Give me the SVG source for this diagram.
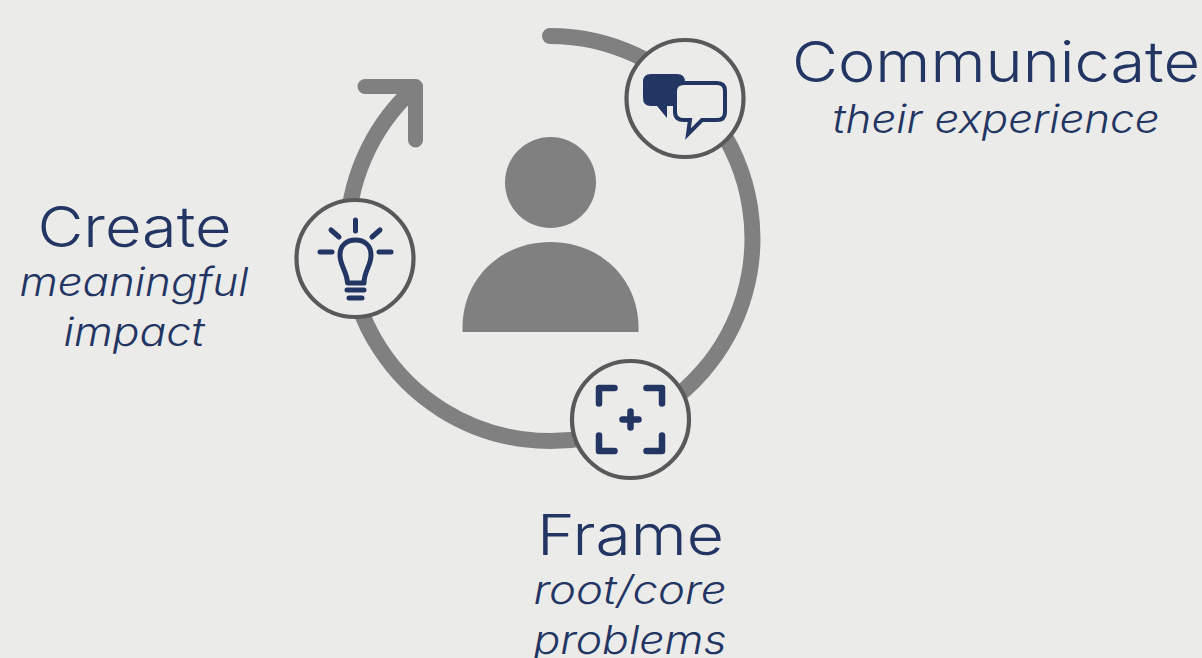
<svg xmlns="http://www.w3.org/2000/svg" width="1202" height="658" viewBox="0 0 1202 658">
<style>
.ring{fill:none;stroke:#808080;stroke-width:16;stroke-linecap:round;stroke-linejoin:round}
.arrow{fill:none;stroke:#808080;stroke-width:15;stroke-linecap:round;stroke-linejoin:round}
.badge{fill:#ebebe9;stroke:#595959;stroke-width:4.200}
.ico{fill:none;stroke:#233563;stroke-width:5;stroke-linecap:round;stroke-linejoin:round}
.t{font-family:Inter,"Liberation Sans",sans-serif;font-weight:300;fill:#233563;text-anchor:middle;font-size:56px}
.s{font-family:Inter,"Liberation Sans",sans-serif;font-weight:300;font-style:italic;fill:#233563;text-anchor:middle;font-size:39px}
</style>
<rect width="1202" height="658" fill="#ebebe9"/>
<g id="connectors">
<path class="ring" d="M550 36A202.500 202.500 0 1 1 415 87.500"/>
<path class="arrow" d="M365 86.500H415.500V140"/>
</g>
<g id="person">
<circle cx="550.500" cy="182.500" r="45.500" fill="#808080"/>
<path d="M462.500 332V326C463.500 277 502 242 550.500 242C599 242 637.500 277 638.500 326V332Z" fill="#808080"/>
</g>
<g id="communicate">
<circle class="badge" cx="685" cy="98.500" r="58.500"/>
<path d="M651 74H677Q685 74 685 82V106H667V118L657 106H651Q643 106 643 98V82Q643 74 651 74Z" fill="#233563"/>
<path d="M684 83H717Q725 83 725 91V112Q725 120 717 120H702L688 134L690 120H684Q675 120 675 112V91Q675 83 684 83Z" fill="#ebebe9" stroke="#233563" stroke-width="4"/>
<text class="t" x="996" y="82" textLength="408" lengthAdjust="spacingAndGlyphs">Communicate</text>
<text class="s" x="996" y="133" textLength="327" lengthAdjust="spacingAndGlyphs">their experience</text>
</g>
<g id="create">
<circle class="badge" cx="355" cy="258.500" r="58.500"/>
<path class="ico" d="M355.500 220V231M331 230L339 237M380 230L372 237M320 252H332M379 252H391"/>
<path class="ico" d="M347.500 283C347 271 340 266 340 255C340 245 347 240 355.500 240C364 240 371 245 371 255C371 266 364 271 364 283Z"/>
<path class="ico" d="M347 290H364M349 298H362"/>
<text class="t" x="134.500" y="247" textLength="194" lengthAdjust="spacingAndGlyphs">Create</text>
<text class="s" x="134" y="296" textLength="229" lengthAdjust="spacingAndGlyphs">meaningful</text>
<text class="s" x="134" y="346" textLength="141" lengthAdjust="spacingAndGlyphs">impact</text>
</g>
<g id="frame">
<circle class="badge" cx="630.500" cy="419.500" r="58.500"/>
<path class="ico" style="stroke-width:6.500" d="M599 403.500V388H614.500M646.500 388H662V403.500M599 435.500V451H614.500M646.500 451H662V435.500M622.500 419.500H638.500M630.500 411.500V427.500"/>
<text class="t" x="630.500" y="555" textLength="187" lengthAdjust="spacingAndGlyphs">Frame</text>
<text class="s" x="630" y="604" textLength="193" lengthAdjust="spacingAndGlyphs">root/core</text>
<text class="s" x="630" y="654" textLength="193" lengthAdjust="spacingAndGlyphs">problems</text>
</g>
</svg>
